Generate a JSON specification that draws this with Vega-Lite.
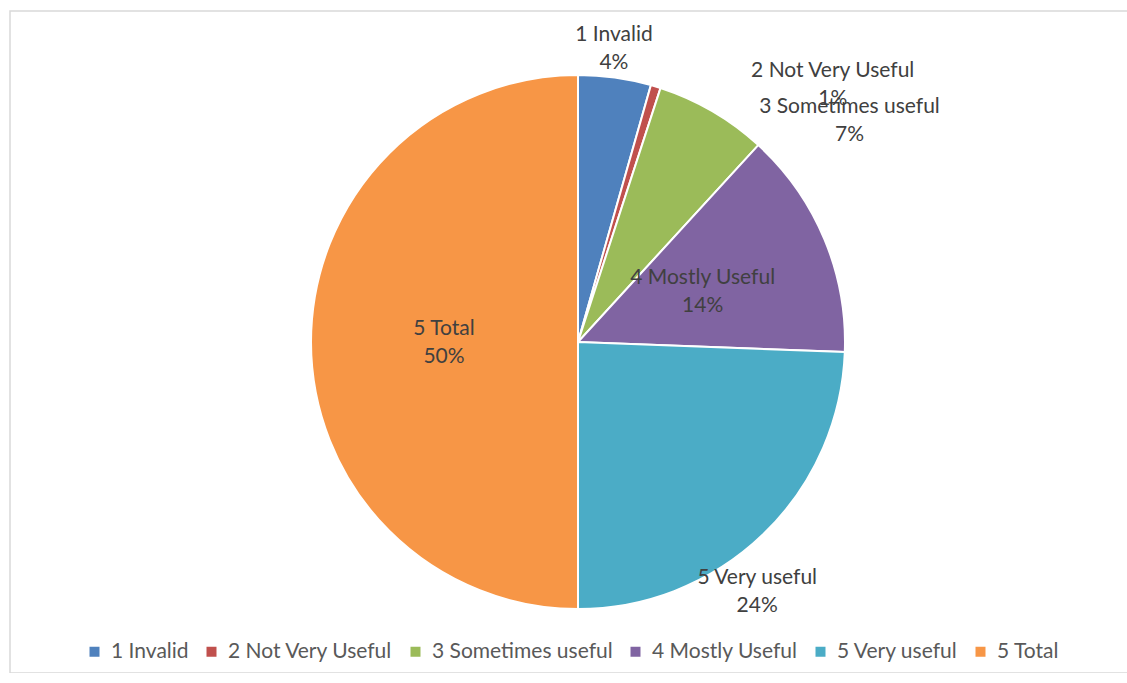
{
  "$schema": "https://vega.github.io/schema/vega-lite/v6.json",
  "width": 1136,
  "height": 662,
  "padding": {"left": 10, "top": 11, "right": 0, "bottom": 0},
  "autosize": {"type": "none"},
  "background": "white",
  "view": {"stroke": "#d9d9d9", "strokeWidth": 1.5},
  "config": {
    "view": {"stroke": "#d9d9d9", "strokeWidth": 1.5},
    "font": "Lato"
  },
  "data": {
    "values": [
      {"idx": 1, "category": "1 Invalid", "value": 4.4},
      {"idx": 2, "category": "2 Not Very Useful", "value": 0.6},
      {"idx": 3, "category": "3 Sometimes useful", "value": 6.8},
      {"idx": 4, "category": "4 Mostly Useful", "value": 13.8},
      {"idx": 5, "category": "5 Very useful", "value": 24.4},
      {"idx": 6, "category": "5 Total", "value": 50.0}
    ]
  },
  "transform": [
    {"stack": "value", "groupby": [], "sort": [{"field": "idx", "order": "ascending"}], "as": ["v0", "v1"]},
    {"calculate": "(datum.v0 + datum.v1) / 2", "as": "mid"},
    {"calculate": "datum.category + '\\n' + format(datum.value / 100, '.0%')", "as": "label"}
  ],
  "encoding": {
    "theta": {"field": "mid", "type": "quantitative", "scale": {"domain": [0, 100]}}
  },
  "layer": [
    {
      "mark": {"type": "arc", "outerRadius": 267, "stroke": "white", "strokeWidth": 2},
      "encoding": {
        "theta": {"field": "v0", "type": "quantitative", "scale": {"domain": [0, 100]}},
        "theta2": {"field": "v1"},
        "color": {
          "field": "category",
          "type": "nominal",
          "sort": ["1 Invalid", "2 Not Very Useful", "3 Sometimes useful", "4 Mostly Useful", "5 Very useful", "5 Total"],
          "scale": {
            "domain": ["1 Invalid", "2 Not Very Useful", "3 Sometimes useful", "4 Mostly Useful", "5 Very useful", "5 Total"],
            "range": ["#4F81BD", "#C0504D", "#9BBB59", "#8064A2", "#4BACC6", "#F79646"]
          },
          "legend": {
            "title": null,
            "orient": "none",
            "direction": "horizontal",
            "legendX": 74,
            "legendY": 630,
            "symbolType": "square",
            "symbolSize": 100,
            "symbolStrokeWidth": 0,
            "labelFontSize": 21,
            "labelColor": "#595959",
            "labelOffset": 6,
            "columnPadding": 12,
            "labelLimit": 300
          }
        }
      }
    },
    {
      "transform": [{"filter": "datum.idx == 1"}],
      "mark": {"type": "text", "radius": 297, "dx": -5, "dy": -13, "fontSize": 21, "lineHeight": 28, "color": "#404040", "lineBreak": "\n", "baseline": "middle"},
      "encoding": {"text": {"field": "label"}}
    },
    {
      "transform": [{"filter": "datum.idx == 2"}],
      "mark": {"type": "text", "radius": 267, "dx": 177, "dy": -16, "fontSize": 21, "lineHeight": 28, "color": "#404040", "lineBreak": "\n", "baseline": "middle"},
      "encoding": {"text": {"field": "label"}}
    },
    {
      "transform": [{"filter": "datum.idx == 3"}],
      "mark": {"type": "text", "radius": 267, "dx": 137, "dy": -4, "fontSize": 21, "lineHeight": 28, "color": "#404040", "lineBreak": "\n", "baseline": "middle"},
      "encoding": {"text": {"field": "label"}}
    },
    {
      "transform": [{"filter": "datum.idx == 4"}],
      "mark": {"type": "text", "radius": 134, "dx": 1, "dy": -12, "fontSize": 21, "lineHeight": 28, "color": "#404040", "lineBreak": "\n", "baseline": "middle"},
      "encoding": {"text": {"field": "label"}}
    },
    {
      "transform": [{"filter": "datum.idx == 5"}],
      "mark": {"type": "text", "radius": 267, "dx": -6, "dy": 44, "fontSize": 21, "lineHeight": 28, "color": "#404040", "lineBreak": "\n", "baseline": "middle"},
      "encoding": {"text": {"field": "label"}}
    },
    {
      "transform": [{"filter": "datum.idx == 6"}],
      "mark": {"type": "text", "radius": 134, "dy": -13, "fontSize": 21, "lineHeight": 28, "color": "#404040", "lineBreak": "\n", "baseline": "middle"},
      "encoding": {"text": {"field": "label"}}
    }
  ]
}
